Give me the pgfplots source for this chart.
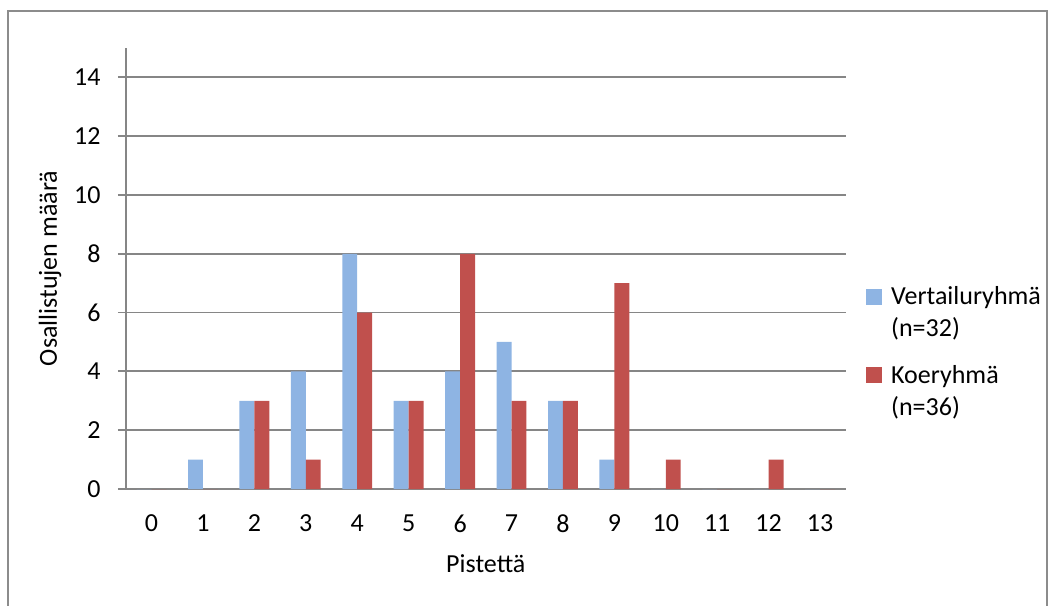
\documentclass[border=0pt]{standalone}
\usepackage{fontspec}
\setmainfont{Carlito}
\usepackage{pgfplots}
\pgfplotsset{compat=1.18}

\definecolor{vertblue}{HTML}{8EB4E3}
\definecolor{koered}{HTML}{C0504D}
\definecolor{gridgray}{HTML}{868686}
\definecolor{framegray}{HTML}{8C8C8C}

\begin{document}
\begin{tikzpicture}[x=1pt,y=1pt]
  \useasboundingbox (0,0) rectangle (1049,605);
  % chart area frame (bottom edge falls off the page)
  \draw[framegray, line width=2pt] (8,-5) -- (8,593.5) -- (1047,593.5) -- (1047,-5);
  \begin{axis}[
    at={(125.8pt,116pt)}, anchor=south west,
    scale only axis,
    width=720pt, height=441pt,
    ybar=0pt, bar width=0.29,
    xmin=-0.5, xmax=13.5,
    ymin=0, ymax=15,
    xtick={0,...,13},
    ytick={0,2,...,14},
    axis x line*=bottom, axis y line*=left,
    axis line style={gridgray, line width=1.8pt, -},
    ymajorgrids,
    grid style={gridgray, line width=1.8pt},
    xtick style={draw=none},
    ytick style={gridgray, line width=1.8pt},
    tick align=outside,
    major tick length=8pt,
    /pgf/number format/assume math mode=true,
    tick label style={font=\fontsize{26}{31}\selectfont, text=black},
    xticklabel style={anchor=center, yshift=-26.5pt},
    yticklabel style={anchor=east, inner sep=0pt, xshift=-17pt},
    xlabel={Pistettä},
    ylabel={Osallistujen määrä},
    label style={font=\fontsize{26}{31}\selectfont},
    xlabel style={at={(axis description cs:0.5,-0.170)}, anchor=center},
    ylabel style={at={(axis description cs:-0.1053,0.5)}, anchor=center},
    legend style={
      at={(axis description cs:1.028,0.464)}, anchor=north west,
      draw=none, fill=none, inner sep=0pt,
      font=\fontsize{26}{32}\selectfont,
      cells={align=left, anchor=base west, inner sep=0pt},
      column sep=7pt,
      row sep=23pt,
    },
    % square beside the first line of each two-line entry
    legend image code/.code={
      \fill[#1] (0pt,32pt) rectangle (16pt,48pt);
    },
  ]
    % Vertailuryhmä (n=32)
    \addplot[fill=vertblue, draw=none, bar shift=-0.145] coordinates {
      (0,0) (1,1) (2,3) (3,4) (4,8) (5,3) (6,4)
      (7,5) (8,3) (9,1) (10,0) (11,0) (12,0) (13,0)
    };
    \addlegendentry{Vertailuryhmä\\(n=32)}
    % Koeryhmä (n=36)
    \addplot[fill=koered, draw=none, bar shift=0.145] coordinates {
      (0,0) (1,0) (2,3) (3,1) (4,6) (5,3) (6,8)
      (7,3) (8,3) (9,7) (10,1) (11,0) (12,1) (13,0)
    };
    \addlegendentry{Koeryhmä\\(n=36)}
  \end{axis}
\end{tikzpicture}
\end{document}
